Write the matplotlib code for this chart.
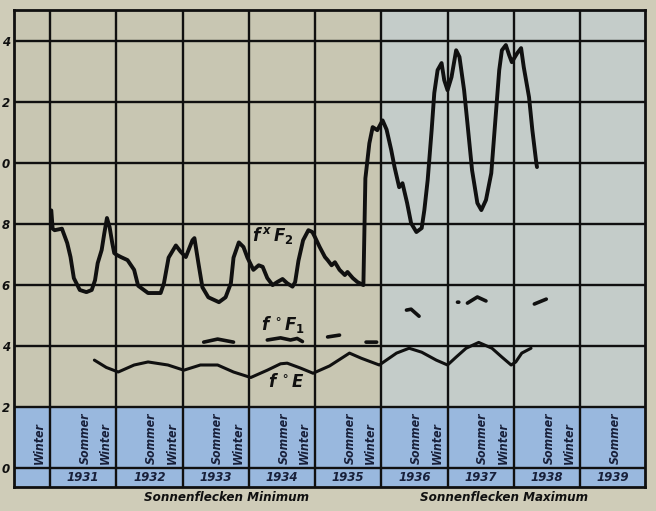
import numpy as np
import matplotlib
matplotlib.use("Agg")
import matplotlib.pyplot as plt

plt.rcParams['font.family'] = ['DejaVu Sans']
plt.rcParams['mathtext.fontset'] = 'custom'
plt.rcParams['mathtext.it'] = 'DejaVu Sans:italic:bold'
plt.rcParams['mathtext.rm'] = 'DejaVu Sans:bold'
plt.rcParams['mathtext.bf'] = 'DejaVu Sans:bold'

# ---------------- data ----------------
years = [1931, 1932, 1933, 1934, 1935, 1936, 1937, 1938, 1939]
ytick_values = [0, 2, 4, 6, 8, 10, 12, 14]
ytick_labels = ['0', '2', '4', '6', '8', '0', '2', '4']

# f^x F2 (MHz)
f2_years = [1931.02, 1931.04, 1931.07, 1931.18, 1931.26, 1931.31, 1931.36, 1931.45,
            1931.55, 1931.63, 1931.68, 1931.72, 1931.78, 1931.82, 1931.86, 1931.90,
            1931.94, 1931.97, 1932.00, 1932.07, 1932.17, 1932.27, 1932.33, 1932.48,
            1932.67, 1932.72, 1932.79, 1932.90, 1932.97, 1933.05, 1933.15, 1933.18,
            1933.24, 1933.30, 1933.39, 1933.55, 1933.65, 1933.73, 1933.77, 1933.85,
            1933.92, 1933.98, 1934.07, 1934.15, 1934.21, 1934.28, 1934.36, 1934.43,
            1934.51, 1934.58, 1934.66, 1934.70, 1934.75, 1934.82, 1934.90, 1934.96,
            1935.00, 1935.07, 1935.15, 1935.19, 1935.25, 1935.30, 1935.37, 1935.45,
            1935.49, 1935.57, 1935.64, 1935.73, 1935.76, 1935.82, 1935.87, 1935.94,
            1936.02, 1936.08, 1936.15, 1936.20, 1936.27, 1936.32, 1936.39, 1936.45,
            1936.53, 1936.61, 1936.65, 1936.70, 1936.76, 1936.80, 1936.85, 1936.91,
            1936.95, 1937.00, 1937.06, 1937.13, 1937.18, 1937.25, 1937.30, 1937.37,
            1937.45, 1937.51, 1937.58, 1937.66, 1937.73, 1937.78, 1937.82, 1937.88,
            1937.93, 1937.97, 1938.05, 1938.11, 1938.15, 1938.23, 1938.28, 1938.34,
            1938.35]
f2_values = [8.45, 7.85, 7.80, 7.85, 7.38, 6.92, 6.23, 5.84,
             5.77, 5.84, 6.16, 6.72, 7.15, 7.70, 8.20, 7.90,
             7.38, 7.05, 7.00, 6.92, 6.82, 6.50, 5.98, 5.74,
             5.74, 6.06, 6.90, 7.30, 7.10, 6.92, 7.47, 7.54,
             6.72, 5.93, 5.60, 5.44, 5.60, 6.06, 6.90, 7.40,
             7.25, 6.90, 6.50, 6.65, 6.60, 6.23, 6.00, 6.10,
             6.20, 6.06, 5.95, 6.10, 6.80, 7.47, 7.80, 7.74,
             7.57, 7.25, 6.92, 6.82, 6.65, 6.75, 6.50, 6.33,
             6.43, 6.23, 6.10, 6.00, 9.50, 10.65, 11.18, 11.08,
             11.40, 11.10, 10.43, 9.87, 9.21, 9.34, 8.69, 8.03,
             7.74, 7.87, 8.46, 9.44, 11.08, 12.30, 13.05, 13.28,
             12.72, 12.39, 12.82, 13.70, 13.48, 12.39, 11.31, 9.77,
             8.69, 8.46, 8.79, 9.67, 11.64, 13.05, 13.70, 13.87,
             13.54, 13.31, 13.60, 13.77, 13.15, 12.16, 11.08, 10.00,
             9.87]

# f°F1 (MHz), separate observed pieces divided by NaN
f1_years = [1933.32, 1933.53, 1933.77, np.nan,
            1934.28, 1934.48, 1934.63, 1934.73, 1934.81, np.nan,
            1935.19, 1935.37, np.nan,
            1935.77, 1935.93, np.nan,
            1936.38, 1936.45, 1936.57, np.nan,
            1937.15, 1937.17, np.nan,
            1937.30, 1937.45, 1937.58, np.nan,
            1938.31, 1938.49]
f1_values = [4.13, 4.23, 4.13, np.nan,
             4.20, 4.27, 4.20, 4.25, 4.15, np.nan,
             4.30, 4.36, np.nan,
             4.13, 4.13, np.nan,
             5.18, 5.21, 4.98, np.nan,
             5.44, 5.44, np.nan,
             5.41, 5.61, 5.48, np.nan,
             5.38, 5.54]

# f°E (MHz)
e_years = [1931.67, 1931.85, 1932.03, 1932.27, 1932.48, 1932.78, 1933.02, 1933.27,
           1933.53, 1933.77, 1934.03, 1934.28, 1934.48, 1934.58, 1934.78, 1934.97,
           1935.22, 1935.52, 1935.70, 1935.97, 1936.23, 1936.42, 1936.61, 1936.83,
           1937.00, 1937.13, 1937.28, 1937.47, 1937.67, 1937.82, 1937.96, 1938.03,
           1938.12, 1938.26]
e_values = [3.54, 3.30, 3.15, 3.38, 3.48, 3.38, 3.21, 3.38,
            3.38, 3.15, 2.97, 3.21, 3.42, 3.44, 3.28, 3.11,
            3.35, 3.77, 3.60, 3.38, 3.77, 3.93, 3.80, 3.54,
            3.38, 3.64, 3.93, 4.12, 3.93, 3.64, 3.38, 3.48,
            3.77, 3.93]

season_years = [1930, 1931, 1931, 1932, 1932, 1933, 1933, 1934, 1934, 1935, 1935,
                1936, 1936, 1937, 1937, 1938, 1938, 1939]
season_labels = ['Winter', 'Sommer', 'Winter', 'Sommer', 'Winter', 'Sommer', 'Winter',
                 'Sommer', 'Winter', 'Sommer', 'Winter', 'Sommer', 'Winter',
                 'Sommer', 'Winter', 'Sommer', 'Winter', 'Sommer']
season_offsets = {'Sommer': 0.53, 'Winter': 0.84}

curve_labels = [r'$f^{\,x}\,F_{2}$', r'$f^{\,\circ}F_{1}$', r'$f^{\,\circ}E$']
curve_label_pos = [(1934.37, 7.62), (1934.52, 4.70), (1934.57, 2.82)]

phase_labels = ['Sonnenflecken Minimum', 'Sonnenflecken Maximum']
phase_label_x = [1933.67, 1937.85]

# ---------------- figure ----------------
W, H = 656, 511
fig = plt.figure(figsize=(W / 100, H / 100), dpi=100)
fig.patch.set_facecolor('#cfccb8')
ax = fig.add_axes([14 / W, (H - 487) / H, 631 / W, 477 / H])
ax.set_xlim(1930.457, 1939.98)
ax.set_ylim(-0.62, 15.02)
ax.set_facecolor('#c8c6b2')

ink = '#101010'
text_ink = '#18203a'

# background tint of the right part and the blue band
ax.axvspan(1936, 1939.98, color='#c4ccc9', zorder=0, lw=0)
ax.axhspan(-0.62, 2, color='#99b8de', zorder=1, lw=0)

# grid
for yv in ytick_values:
    ax.axhline(yv, color=ink, lw=1.7, zorder=2)
for yr in years:
    ax.axvline(yr, color=ink, lw=1.7, zorder=2)
for s in ax.spines.values():
    s.set_color(ink)
    s.set_linewidth(2.0)
    s.set_zorder(5)

ax.set_xticks([])
ax.set_yticks(ytick_values)
ax.set_yticklabels(ytick_labels, fontsize=8.5, fontweight='bold', fontstyle='italic',
                   color=ink)
ax.tick_params(axis='y', length=0, pad=3)

# curves
ax.plot(f2_years, f2_values, color=ink, lw=2.8, zorder=4,
        solid_capstyle='round', solid_joinstyle='round')
ax.plot(f1_years, f1_values, color=ink, lw=2.6, zorder=4, solid_capstyle='round')
ax.plot(e_years, e_values, color=ink, lw=2.2, zorder=4,
        solid_capstyle='round', solid_joinstyle='round')

for lab, (x, y) in zip(curve_labels, curve_label_pos):
    ax.text(x, y, lab, fontsize=12, ha='center', va='center', color=ink, zorder=6)

# season labels in the blue band
for yr, lab in zip(season_years, season_labels):
    ax.text(yr + season_offsets[lab], 0.15, lab, rotation=90, ha='center', va='bottom',
            fontsize=8.8, fontweight='bold', fontstyle='italic', fontstretch='condensed',
            color=text_ink, zorder=6)

# year labels
for yr in years:
    ax.text(yr + 0.5, -0.31, str(yr), ha='center', va='center', fontsize=8.5,
            fontweight='bold', fontstyle='italic', color=text_ink, zorder=6)

# phase labels below the chart
for lab, x in zip(phase_labels, phase_label_x):
    ax.text(x, -0.95, lab, ha='center', va='center', fontsize=9.5, fontweight='bold',
            fontstyle='italic', fontstretch='condensed', color=ink, clip_on=False)

fig.savefig('out.png', dpi=100, facecolor=fig.get_facecolor())
